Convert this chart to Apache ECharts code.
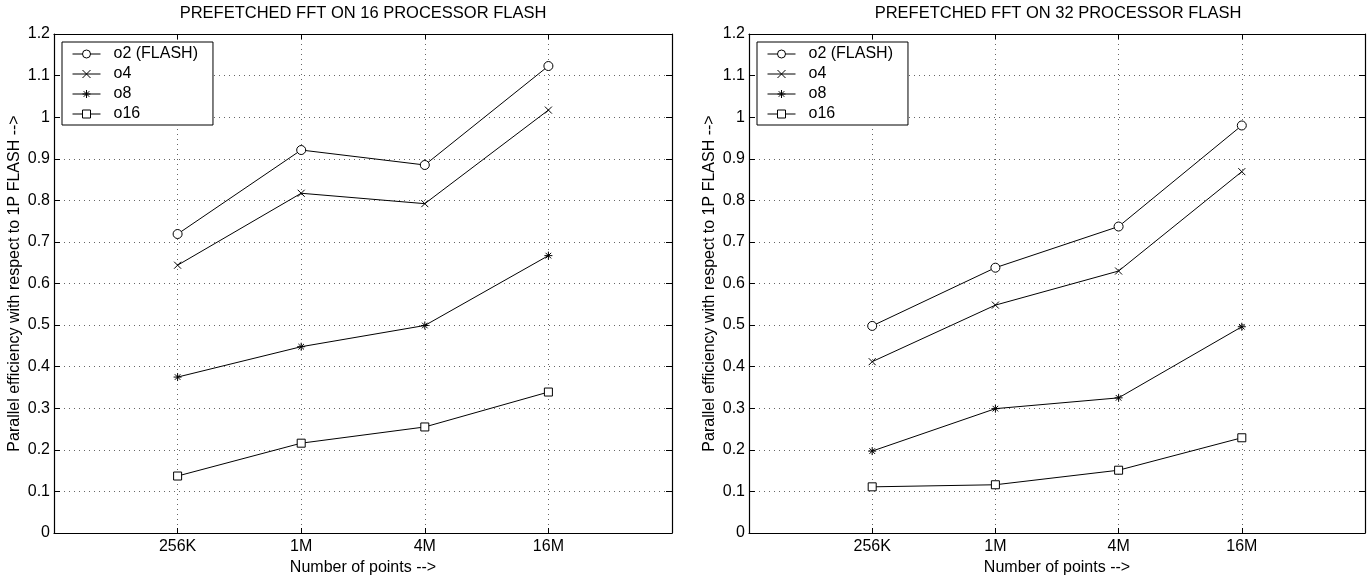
<!DOCTYPE html>
<html>
<head>
<meta charset="utf-8">
<script src="https://cdn.jsdelivr.net/npm/echarts@6/dist/echarts.min.js"></script>
<style>
html,body{margin:0;padding:0;background:#fff;}
#main{width:1368px;height:581px;}
</style>
</head>
<body>
<div id="main"></div>
<script>
// data
var categories = ['256K', '1M', '4M', '16M'];
var seriesNames = ['o2 (FLASH)', 'o4', 'o8', 'o16'];
var yTicks = [0, 0.1, 0.2, 0.3, 0.4, 0.5, 0.6, 0.7, 0.8, 0.9, 1, 1.1, 1.2];
var titles = ['PREFETCHED FFT ON 16 PROCESSOR FLASH', 'PREFETCHED FFT ON 32 PROCESSOR FLASH'];

var p16_o2 = [0.719, 0.921, 0.885, 1.123];
var p16_o4 = [0.644, 0.817, 0.792, 1.017];
var p16_o8 = [0.375, 0.448, 0.499, 0.667];
var p16_o16 = [0.137, 0.216, 0.255, 0.339];

var p32_o2 = [0.498, 0.638, 0.737, 0.980];
var p32_o4 = [0.412, 0.548, 0.630, 0.869];
var p32_o8 = [0.197, 0.299, 0.325, 0.496];
var p32_o16 = [0.111, 0.116, 0.151, 0.229];

var panels = [
	[p16_o2, p16_o4, p16_o8, p16_o16],
	[p32_o2, p32_o4, p32_o8, p32_o16]
];

var symbols = [
	'circle',
	'path://M0,0 L10,10 M10,0 L0,10',
	'path://M5,0 L5,10 M0,5 L10,5 M1.5,1.5 L8.5,8.5 M8.5,1.5 L1.5,8.5',
	'rect'
];
var symbolSizes = [9, 7, 8, 8];

var FONT = '"Liberation Sans", Arial, Helvetica, sans-serif';
var gridLefts = [54, 749];

var chart = echarts.init(document.getElementById('main'));

var grid = [], xAxis = [], yAxis = [], series = [], title = [], legend = [];

gridLefts.forEach(function (left, g) {
	grid.push({left: left, top: 34, width: 618, height: 499, containLabel: false});

	title.push({
		text: titles[g],
		left: left + 309,
		top: 5,
		textAlign: 'center',
		padding: 0,
		textStyle: {fontFamily: FONT, fontSize: 16.5, fontWeight: 'normal', color: '#000'}
	});

	legend.push({
		data: seriesNames,
		orient: 'vertical',
		left: left + 8,
		top: 42,
		padding: [4, 15, 3, 10],
		itemWidth: 28,
		itemHeight: 10,
		itemGap: 4,
		backgroundColor: '#fff',
		borderColor: '#000',
		borderWidth: 1,
		borderRadius: 0,
		selectedMode: false,
		lineStyle: {width: 1, color: '#000'},
		itemStyle: {color: '#fff', borderColor: '#000', borderWidth: 1},
		textStyle: {fontFamily: FONT, fontSize: 16, color: '#000', lineHeight: 16, padding: [0, 0, 0, 8]}
	});

	// bottom axis with labels
	xAxis.push({
		gridIndex: g,
		type: 'value',
		min: 0,
		max: 5,
		interval: 1,
		position: 'bottom',
		name: 'Number of points -->',
		nameLocation: 'middle',
		nameGap: 26,
		nameTextStyle: {fontFamily: FONT, fontSize: 16, color: '#000'},
		axisLine: {show: true, onZero: false, lineStyle: {color: '#000', width: 1.2}},
		axisTick: {show: true, inside: true, length: 5, lineStyle: {color: '#000'}},
		axisLabel: {
			margin: 6,
			fontFamily: FONT, fontSize: 16, color: '#000',
			formatter: function (v) { return categories[v - 1] || ''; }
		},
		splitLine: {show: true, lineStyle: {color: '#666', type: [1, 4], width: 1}}
	});
	// top axis, ticks only
	xAxis.push({
		gridIndex: g,
		type: 'value',
		min: 0,
		max: 5,
		interval: 1,
		position: 'top',
		axisLine: {show: true, onZero: false, lineStyle: {color: '#000', width: 1.2}},
		axisTick: {show: true, inside: true, length: 5, lineStyle: {color: '#000'}},
		axisLabel: {show: false},
		splitLine: {show: false}
	});

	yAxis.push({
		gridIndex: g,
		type: 'value',
		min: yTicks[0],
		max: yTicks[yTicks.length - 1],
		interval: 0.1,
		position: 'left',
		name: 'Parallel efficiency with respect to 1P FLASH -->',
		nameLocation: 'middle',
		nameGap: 31,
		nameTextStyle: {fontFamily: FONT, fontSize: 16, color: '#000'},
		axisLine: {show: true, onZero: false, lineStyle: {color: '#000', width: 1.2}},
		axisTick: {show: true, inside: true, length: 6, lineStyle: {color: '#000'}},
		axisLabel: {
			margin: 4,
			fontFamily: FONT, fontSize: 16, color: '#000',
			formatter: function (v) { return String(Math.round(v * 10) / 10); }
		},
		splitLine: {show: true, lineStyle: {color: '#666', type: [1, 4], width: 1}}
	});
	yAxis.push({
		gridIndex: g,
		type: 'value',
		min: yTicks[0],
		max: yTicks[yTicks.length - 1],
		interval: 0.1,
		position: 'right',
		axisLine: {show: true, onZero: false, lineStyle: {color: '#000', width: 1.2}},
		axisTick: {show: true, inside: true, length: 6, lineStyle: {color: '#000'}},
		axisLabel: {show: false},
		splitLine: {show: false}
	});

	panels[g].forEach(function (vals, i) {
		series.push({
			name: seriesNames[i],
			type: 'line',
			xAxisIndex: g * 2,
			yAxisIndex: g * 2,
			data: vals.map(function (v, k) { return [k + 1, v]; }),
			symbol: symbols[i],
			symbolSize: symbolSizes[i],
			showAllSymbol: true,
			animation: false,
			lineStyle: {color: '#000', width: 1},
			itemStyle: {color: '#fff', borderColor: '#000', borderWidth: 1},
			emphasis: {disabled: true}
		});
	});
});

var option = {
	backgroundColor: '#fff',
	animation: false,
	title: title,
	legend: legend,
	grid: grid,
	xAxis: xAxis,
	yAxis: yAxis,
	series: series
};

chart.setOption(option);
</script>
</body>
</html>
